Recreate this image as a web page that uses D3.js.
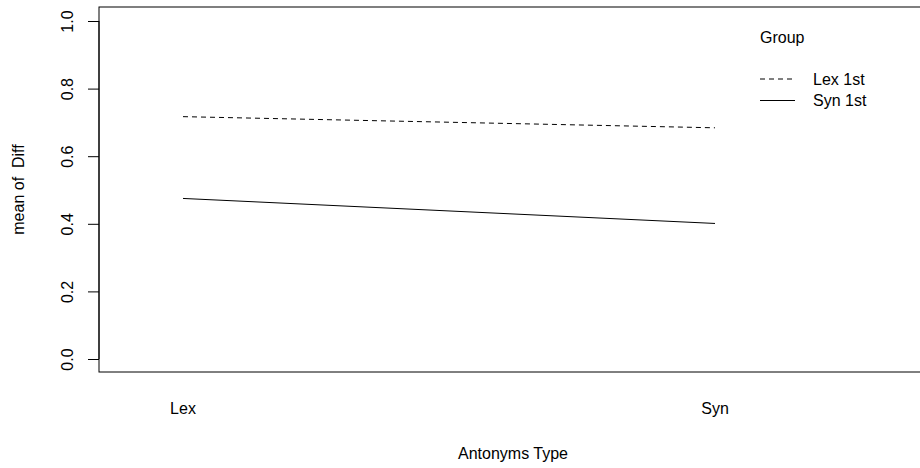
<!DOCTYPE html>
<html><head><meta charset="utf-8">
<script src="https://cdn.jsdelivr.net/npm/d3@7"></script>
<style>body{margin:0;background:#fff}svg{display:block}text{font-family:"Liberation Sans",Arial,Helvetica,sans-serif;fill:#000;white-space:pre}</style>
</head><body><svg id="c" width="920" height="468"></svg>
<script>
const categories = ["Lex", "Syn"];
const groups = ["Lex 1st", "Syn 1st"];
const lex1st = [0.717, 0.684];
const syn1st = [0.475, 0.401];
const yTicks = [0.0, 0.2, 0.4, 0.6, 0.8, 1.0];
const xTitle = "Antonyms Type";
const yTitle = "mean of  Diff";
const legendTitle = "Group";

const svg = d3.select("#c");
const L = 99, R = 927, T = 7, B = 372;
const x = d3.scaleLinear().domain([1, 2]).range([183, 715]);
const y = d3.scaleLinear().domain([0, 1]).range([359, 21]);

svg.append("rect").attr("x", L).attr("y", T).attr("width", R - L).attr("height", B - T)
  .attr("fill", "none").attr("stroke", "#000").attr("stroke-width", 1);

// y axis
const yAxis = d3.axisLeft(y).tickValues(yTicks).tickFormat(d3.format(".1f")).tickSize(11).tickSizeOuter(0);
const ga = svg.append("g").attr("transform", `translate(${L},0)`).call(yAxis);
ga.select(".domain").attr("d", `M0,${y(0)}V${y(1)}`).attr("stroke", "#000");
ga.selectAll(".tick line").attr("stroke", "#000");
ga.selectAll(".tick text").attr("font-size", 16).attr("font-family", "Liberation Sans, Arial, sans-serif")
  .attr("fill", "#000").attr("x", 0).attr("dy", null)
  .attr("text-anchor", "middle").attr("dominant-baseline", "central")
  .attr("transform", d => `translate(-32,0) rotate(-90)`);

// x labels (no ticks)
svg.selectAll(".xl").data(categories).join("text")
  .attr("x", (d, i) => x(i + 1)).attr("y", 408).attr("text-anchor", "middle")
  .attr("dominant-baseline", "central").attr("font-size", 16).text(d => d);

svg.append("text").attr("x", (L + R) / 2).attr("y", 453).attr("text-anchor", "middle")
  .attr("dominant-baseline", "central").attr("font-size", 16).text(xTitle);
svg.append("text").attr("transform", `translate(18,${(T + B) / 2}) rotate(-90)`).attr("text-anchor", "middle")
  .attr("dominant-baseline", "central").attr("font-size", 16).attr("xml:space", "preserve").text(yTitle);

const line = d3.line().x((d, i) => x(i + 1)).y(d => y(d));
const series = [{name: groups[0], vals: lex1st, dash: "5,4"}, {name: groups[1], vals: syn1st, dash: null}];
series.forEach(s => {
  svg.append("path").attr("d", line(s.vals)).attr("fill", "none").attr("stroke", "#000")
    .attr("stroke-width", 1).attr("stroke-dasharray", s.dash);
});

// legend
svg.append("text").attr("x", 760).attr("y", 37).attr("dominant-baseline", "central").attr("font-size", 16).text(legendTitle);
series.forEach((s, i) => {
  const yy = 79 + i * 21.5;
  svg.append("line").attr("x1", 760).attr("x2", 795).attr("y1", yy).attr("y2", yy)
    .attr("stroke", "#000").attr("stroke-width", 1).attr("stroke-dasharray", s.dash);
  svg.append("text").attr("x", 813).attr("y", yy).attr("dominant-baseline", "central").attr("font-size", 16).text(s.name);
});
</script></body></html>
